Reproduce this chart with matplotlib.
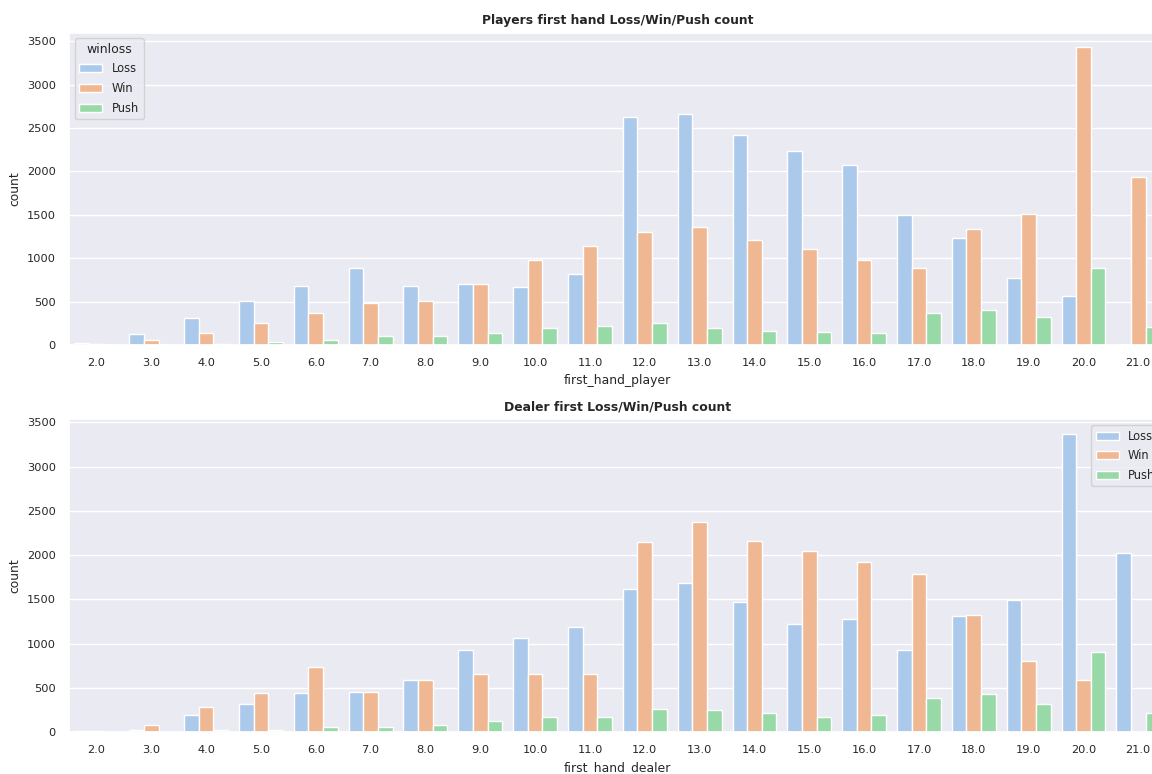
import matplotlib
matplotlib.use("Agg")
import matplotlib.pyplot as plt
import seaborn as sns
import pandas as pd

categories = ['2.0', '3.0', '4.0', '5.0', '6.0', '7.0', '8.0', '9.0', '10.0', '11.0',
              '12.0', '13.0', '14.0', '15.0', '16.0', '17.0', '18.0', '19.0', '20.0', '21.0']
hue_order = ['Loss', 'Win', 'Push']

player_loss = [30, 130, 314, 510, 686, 885, 686, 705, 675, 820,
               2622, 2656, 2419, 2238, 2077, 1499, 1238, 774, 567, 0]
player_win = [15, 65, 142, 253, 372, 483, 514, 701, 981, 1138,
              1299, 1361, 1211, 1104, 981, 893, 1334, 1506, 3427, 1932]
player_push = [2, 3, 10, 38, 57, 111, 111, 142, 203, 222,
               257, 203, 165, 149, 142, 372, 402, 322, 885, 207]

dealer_loss = [8, 19, 192, 316, 440, 448, 591, 930, 1058, 1182,
               1618, 1682, 1472, 1223, 1276, 922, 1317, 1487, 3368, 2025]
dealer_win = [15, 79, 282, 440, 738, 448, 583, 659, 659, 659,
              2145, 2379, 2157, 2047, 1923, 1784, 1325, 798, 591, 0]
dealer_push = [0, 2, 19, 19, 56, 56, 79, 124, 173, 173,
               256, 245, 211, 166, 196, 380, 433, 316, 903, 218]


def long_frame(xname, loss, win, push):
    rows = []
    for lab, vals in zip(hue_order, [loss, win, push]):
        for c, v in zip(categories, vals):
            rows.append({xname: c, 'winloss': lab, 'count': v})
    return pd.DataFrame(rows)


sns.set_theme(style="darkgrid", palette="pastel", context="notebook", font_scale=0.745)

fig = plt.figure(figsize=(11.52, 7.74), dpi=100)
ax1 = fig.add_axes([0.0599, 0.554, 0.952, 0.404])
ax2 = fig.add_axes([0.0599, 0.0543, 0.952, 0.404])

df1 = long_frame('first_hand_player', player_loss, player_win, player_push)
sns.barplot(data=df1, x='first_hand_player', y='count', hue='winloss',
            order=categories, hue_order=hue_order, errorbar=None, ax=ax1)
ax1.set_title('Players first hand Loss/Win/Push count', fontweight='bold')
ax1.legend(loc='upper left', title='winloss', fontsize=8.3, title_fontsize=9.0,
           labelspacing=0.57)

df2 = long_frame('first_hand_dealer', dealer_loss, dealer_win, dealer_push)
sns.barplot(data=df2, x='first_hand_dealer', y='count', hue='winloss',
            order=categories, hue_order=hue_order, errorbar=None, ax=ax2)
ax2.set_title('Dealer first Loss/Win/Push count', fontweight='bold')
ax2.legend(loc='upper right', fontsize=8.3, labelspacing=0.57)

fig.savefig('out.png', dpi=100)
